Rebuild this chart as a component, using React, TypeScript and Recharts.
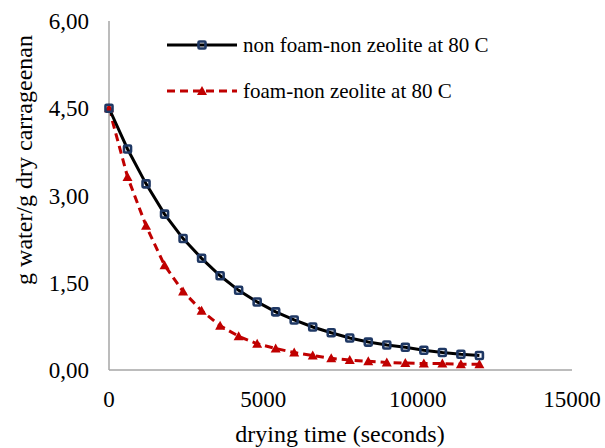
import { LineChart, Line, XAxis, YAxis, Legend, Label } from "recharts"

const times = [0, 600, 1200, 1800, 2400, 3000, 3600, 4200, 4800, 5400, 6000, 6600, 7200, 7800, 8400, 9000, 9600, 10200, 10800, 11400, 12000]
const nonFoam = [4.5, 3.8, 3.2, 2.68, 2.26, 1.92, 1.62, 1.37, 1.17, 1.0, 0.86, 0.74, 0.64, 0.55, 0.48, 0.43, 0.39, 0.34, 0.3, 0.27, 0.25]
const foam = [4.5, 3.32, 2.48, 1.8, 1.35, 1.02, 0.76, 0.58, 0.45, 0.37, 0.3, 0.25, 0.2, 0.17, 0.15, 0.13, 0.12, 0.11, 0.11, 0.1, 0.1]
const xTicks = [0, 5000, 10000, 15000]
const yTicks = [0, 1.5, 3, 4.5, 6]
const seriesNames = ["non foam-non zeolite at 80 C", "foam-non zeolite at 80 C"]

const data = times.map((t, i) => ({ t, a: nonFoam[i], b: foam[i] }))

const FONT = "Liberation Serif"
const NAVY = "#1F3864"
const RED = "#C00000"
const AXIS = "#A6A6A6"

const SquareDot = (props: any) => {
  const { cx, cy } = props
  if (cx == null || cy == null) return null
  return <rect x={cx - 3.5} y={cy - 3.5} width={7} height={7} fill="none" stroke={NAVY} strokeWidth={2.6} rx={1} />
}

const TriDot = (props: any) => {
  const { cx, cy } = props
  if (cx == null || cy == null) return null
  return <path d={`M${cx},${cy - 5} L${cx + 5},${cy + 4} L${cx - 5},${cy + 4} Z`} fill={RED} />
}

const LegendBox = () => (
  <div style={{ fontFamily: FONT, fontSize: 21, color: "#000", whiteSpace: "nowrap" }}>
    <div style={{ display: "flex", alignItems: "center", height: 24 }}>
      <svg width={76} height={20}>
        <line x1={0} y1={10} x2={70} y2={10} stroke="#000" strokeWidth={3} />
        <rect x={31.5} y={6.5} width={7} height={7} fill="none" stroke={NAVY} strokeWidth={2.6} rx={1} />
      </svg>
      <span>{seriesNames[0]}</span>
    </div>
    <div style={{ display: "flex", alignItems: "center", height: 24, marginTop: 22 }}>
      <svg width={76} height={20}>
        <line x1={0} y1={10} x2={70} y2={10} stroke={RED} strokeWidth={3} strokeDasharray="8 5" />
        <path d="M35,5 L40,14 L30,14 Z" fill={RED} />
      </svg>
      <span>{seriesNames[1]}</span>
    </div>
  </div>
)

export default function App() {
  return (
    <div style={{ position: "absolute", left: 0, top: 0, background: "#fff" }}>
      <LineChart width={605} height={448} data={data} margin={{ top: 21, right: 33, bottom: 0, left: 0 }}>
        <XAxis
          dataKey="t"
          type="number"
          domain={[0, 15000]}
          ticks={xTicks}
          tickLine={false}
          tickSize={8}
          tickMargin={13}
          height={78}
          stroke={AXIS}
          strokeWidth={1.5}
          tick={{ fill: "#000", fontFamily: FONT, fontSize: 23 }}
        >
          <Label
            content={() => (
              <text x={340} y={442} textAnchor="middle" fontFamily={FONT} fontSize={24} fill="#000">
                drying time (seconds)
              </text>
            )}
          />
        </XAxis>
        <YAxis
          type="number"
          domain={[0, 6]}
          ticks={yTicks}
          tickLine={false}
          tickSize={8}
          tickMargin={12}
          width={109}
          stroke={AXIS}
          strokeWidth={1.5}
          tickFormatter={(v: number) => v.toFixed(2).replace(".", ",")}
          tick={{ fill: "#000", fontFamily: FONT, fontSize: 23 }}
        >
          <Label
            content={() => (
              <text x={32} y={160} transform="rotate(-90 32 160)" textAnchor="middle" fontFamily={FONT} fontSize={24} fill="#000">
                g water/g dry carrageenan
              </text>
            )}
          />
        </YAxis>
        <Legend
          layout="vertical"
          align="center"
          verticalAlign="middle"
          content={() => <LegendBox />}
          wrapperStyle={{ position: "absolute", left: 167, top: 33, width: "auto" }}
        />
        <Line
          dataKey="b"
          name={seriesNames[1]}
          stroke={RED}
          strokeWidth={3}
          strokeDasharray="8 5"
          dot={<TriDot />}
          isAnimationActive={false}
        />
        <Line
          dataKey="a"
          name={seriesNames[0]}
          stroke="#000"
          strokeWidth={3}
          dot={<SquareDot />}
          isAnimationActive={false}
        />
      </LineChart>
    </div>
  )
}
